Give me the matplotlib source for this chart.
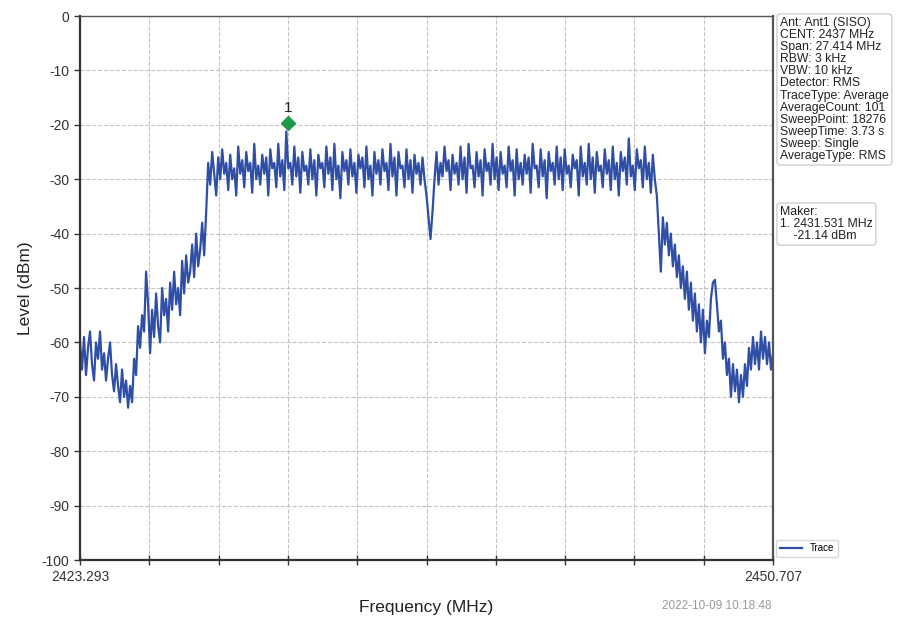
import numpy as np
import matplotlib
matplotlib.use("Agg")
import matplotlib.pyplot as plt
import matplotlib.transforms as mtransforms

plt.rcParams['font.family'] = ['Liberation Sans', 'DejaVu Sans']
plt.rcParams['axes.unicode_minus'] = False

# frequency span of the sweep (MHz)
f_start = 2423.293
f_stop = 2450.707

# trace levels (dBm) left to right, split by region
skirt_left = [-60, -65, -59, -66, -61, -58, -64, -67, -60, -63, -58, -65, -62,
              -67, -63, -60, -66, -69, -64, -68, -71, -65, -70, -67, -72]
rise_left = [-68, -71, -63, -66, -57, -61, -55, -58, -47, -53,
             -62, -54, -59, -51, -57, -60, -50, -55, -52, -58, -49, -54, -47, -53,
             -50, -55, -45, -51, -44, -49, -47, -42, -48, -40, -46, -43, -38, -44]
band_left = [-36, -27, -31, -25, -29, -33, -26, -30,
             -24.5, -29, -27, -32, -25.5, -30, -28, -33,
             -24, -29, -26.5, -31.5, -25, -28.5, -27, -32.5,
             -23.5, -30, -27.5, -31, -25.5, -29, -26, -33,
             -24.5, -28, -27, -31.5, -23.5, -29.5, -26.5, -32,
             -21.2, -28, -27, -31, -24, -29.5, -26, -32.5,
             -25, -28.5, -27.5, -31, -24.5, -30, -26.5, -33,
             -25.5, -28, -27, -31.5, -24, -29, -26, -32,
             -23.5, -30, -27.5, -33.5, -25, -28.5, -26.5, -31,
             -24.5, -29.5, -27, -32.5, -25.5, -28, -26, -31.5,
             -24, -30, -27.5, -33, -25, -29, -26.5, -31,
             -24.5, -28.5, -27, -32, -23.5, -29.5, -26, -33,
             -25, -28, -27.5, -31.5, -24.5, -30, -26.5, -32.5,
             -25.5, -29, -27, -31, -26, -30]
notch = [-33, -37, -41, -36, -30]
band_right = [-25, -31, -27, -29.5, -24, -28.5, -26.5, -32,
              -25.5, -29, -27, -31, -24, -30, -26, -32.5,
              -23.5, -28, -27.5, -31.5, -25, -29.5, -26.5, -33,
              -24.5, -28.5, -27, -31, -23.5, -30, -26, -32,
              -25, -29, -27.5, -31.5, -24, -28.5, -26.5, -33,
              -24.5, -30, -27, -31, -25.5, -29, -26, -32.5,
              -23.5, -28, -27.5, -31.5, -24.5, -29.5, -26.5, -33.5,
              -25, -28.5, -27, -31, -24, -30, -26, -32,
              -24.5, -29, -27.5, -31.5, -25.5, -28, -26.5, -33,
              -24, -29.5, -27, -31, -23.5, -30, -26, -32.5,
              -25, -28.5, -27.5, -31.5, -24.5, -29, -26.5, -32,
              -24, -30, -27, -33, -25, -28.5, -26, -31,
              -22.5, -29.5, -27.5, -32, -24.5, -28, -26.5, -31.5,
              -24, -30, -27, -32.5, -25.5, -30]
fall_right = [-33, -40, -47, -37, -42, -38, -44, -40, -46, -42, -48,
              -44, -50, -46, -52, -47, -54, -49, -56, -51, -58, -53]
skirt_right = [-60, -54, -62, -56, -59, -52, -49, -48.5, -53, -58,
               -56, -63, -60, -66, -63, -70, -64, -69, -65, -71,
               -66, -70, -64, -68, -61, -65, -59, -64, -60, -65,
               -58, -63, -59, -64, -60, -65, -62]

# marker 1
marker_freq = 2431.531
marker_level = -21.14

info_lines = ["Ant: Ant1 (SISO)", "CENT: 2437 MHz", "Span: 27.414 MHz",
              "RBW: 3 kHz", "VBW: 10 kHz", "Detector: RMS",
              "TraceType: Average", "AverageCount: 101", "SweepPoint: 18276",
              "SweepTime: 3.73 s", "Sweep: Single", "AverageType: RMS"]
maker_lines = ["Maker:", "1. 2431.531 MHz", "    -21.14 dBm"]
timestamp = "2022-10-09 10:18:48"

level = np.array(skirt_left + rise_left + band_left + notch + band_right
                 + fall_right + skirt_right)
freq = np.linspace(f_start, f_stop, len(level))

fig = plt.figure(figsize=(9.03, 6.21), dpi=100)
ax = fig.add_axes([80 / 903, 1 - 560 / 621, 693 / 903, 544 / 621])

ax.plot(freq, level, color='#2f4ea6', lw=1.6, label='Trace')

# marker diamond sits a little above the trace peak, number above it
mk_tr = mtransforms.offset_copy(ax.transData, fig=fig, x=0, y=8, units='dots')
num_tr = mtransforms.offset_copy(ax.transData, fig=fig, x=0, y=16, units='dots')
ax.plot([marker_freq], [marker_level], marker='D', ms=7, color='#1f9a4b',
        transform=mk_tr, zorder=5)
ax.text(marker_freq, marker_level, "1", transform=num_tr, ha='center',
        va='bottom', fontsize=11, color='#222222')

ax.set_xlim(f_start, f_stop)
ax.set_ylim(-100, 0)
ax.set_yticks(np.arange(-100, 1, 10))
ax.set_xticks(np.linspace(f_start, f_stop, 11))
ax.set_xticklabels([f"{f_start:.3f}"] + [""] * 9 + [f"{f_stop:.3f}"])
ax.tick_params(axis='x', direction='inout', length=7, width=1, labelsize=10,
               colors='#333333')
ax.tick_params(axis='y', direction='out', length=4, width=1, labelsize=10,
               colors='#333333')
ax.grid(True, ls='--', color='#c4c4c4', lw=0.8)

for side in ['left', 'bottom']:
    ax.spines[side].set_linewidth(1.6)
    ax.spines[side].set_color('#333333')
ax.spines['right'].set_linewidth(1.6)
ax.spines['right'].set_color('#555555')
ax.spines['top'].set_linewidth(1.0)
ax.spines['top'].set_color('#555555')

ax.set_xlabel("Frequency (MHz)", fontsize=12.5, labelpad=12, color='#222222')
ax.set_ylabel("Level (dBm)", fontsize=12.5, labelpad=6, color='#222222')

fig.text(772 / 903, 1 - 606 / 621, timestamp, ha='right', va='center',
         fontsize=8.5, color='#9a9a9a')

box = dict(boxstyle='round,pad=0.25', fc='white', ec='#cfcfcf', lw=1)
fig.text(780 / 903, 1 - 17 / 621, "\n".join(info_lines), ha='left', va='top',
         fontsize=8.8, linespacing=1.01, color='#222222', bbox=box)
fig.text(780 / 903, 1 - 206 / 621, "\n".join(maker_lines), ha='left', va='top',
         fontsize=8.8, linespacing=1.01, color='#222222', bbox=box)

ax.legend(loc='lower left', bbox_to_anchor=(1.005, 0.005), fontsize=7,
          frameon=True, fancybox=True, edgecolor='#cfcfcf', handlelength=2.2,
          borderaxespad=0.0)

fig.savefig("out.png", dpi=100)
